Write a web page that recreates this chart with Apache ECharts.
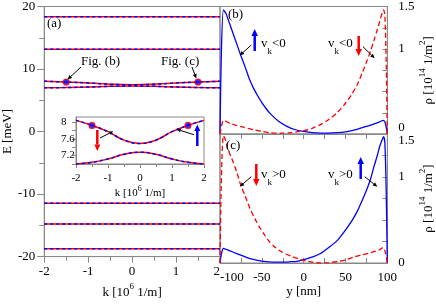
<!DOCTYPE html>
<html><head><meta charset="utf-8">
<script src="https://cdn.jsdelivr.net/npm/echarts@6/dist/echarts.min.js"></script>
<style>html,body{margin:0;padding:0;background:#fff}#c{width:436px;height:304px}</style>
</head><body><div id="c"></div>
<script>
// ---------- data ----------
const kVals = [-2, -1.5, -1, -0.5, 0, 0.5, 1, 1.5, 2];
const band1 = [18.35, 18.35, 18.35, 18.35, 18.35, 18.35, 18.35, 18.35, 18.35];
const band2 = [13.15, 13.15, 13.15, 13.15, 13.15, 13.15, 13.15, 13.15, 13.15];
const band3 = [8.04, 7.92, 7.77, 7.57, 7.49, 7.57, 7.77, 7.92, 8.04];
const band4 = [7.0, 7.04, 7.12, 7.23, 7.28, 7.23, 7.12, 7.04, 7.0];
const band5 = [-11.47, -11.47, -11.47, -11.47, -11.47, -11.47, -11.47, -11.47, -11.47];
const band6 = [-14.8, -14.8, -14.8, -14.8, -14.8, -14.8, -14.8, -14.8, -14.8];
const band7 = [-18.75, -18.75, -18.75, -18.75, -18.75, -18.75, -18.75, -18.75, -18.75];
const dotK = [-1.5, 1.5];
const dotE = [7.92, 7.92];

// panel (b)
const yB_blue = [-100, -98.5, -96, -93, -90, -85, -80, -75, -70, -65, -60, -55, -50, -45, -40, -30, -20, -10, 0, 10, 20, 30, 40, 50, 60, 70, 80, 90, 95, 97.5, 100];
const rhoB_blue = [0, 0.9, 1.46, 1.42, 1.34, 1.2, 1.06, 0.92, 0.79, 0.65, 0.54, 0.45, 0.37, 0.3, 0.24, 0.15, 0.09, 0.05, 0.03, 0.015, 0.01, 0.01, 0.015, 0.025, 0.045, 0.075, 0.105, 0.14, 0.16, 0.13, 0];
const yB_red = [-100, -98, -96, -93, -88, -80, -72, -60, -50, -40, -27, -15, -4, 5, 11, 20, 30, 40, 49, 57, 64, 70, 76, 80, 84, 88, 91, 94, 95.5, 97, 98.5, 100];
const rhoB_red = [0, 0.1, 0.16, 0.15, 0.125, 0.1, 0.08, 0.05, 0.03, 0.015, 0.01, 0.015, 0.03, 0.05, 0.07, 0.11, 0.17, 0.25, 0.35, 0.46, 0.58, 0.72, 0.87, 0.98, 1.1, 1.23, 1.33, 1.43, 1.46, 1.4, 0.9, 0];
// panel (c)
const yC_blue = [-100, -98, -96, -93, -88, -80, -72, -64, -55, -45, -38, -25, -15, -8, 0, 11, 20, 30, 40, 49, 57, 64, 70, 76, 80, 84, 88, 91, 94, 95.5, 97, 98.5, 100];
const rhoC_blue = [0, 0.12, 0.17, 0.16, 0.14, 0.11, 0.08, 0.05, 0.03, 0.015, 0.01, 0.01, 0.015, 0.02, 0.04, 0.07, 0.11, 0.18, 0.26, 0.37, 0.48, 0.6, 0.73, 0.87, 0.98, 1.12, 1.25, 1.36, 1.44, 1.47, 1.4, 0.9, 0];
const yC_red = [-100, -98.5, -96, -93, -91, -87, -80, -75.7, -70, -64, -58, -53, -47, -42, -35, -26.5, -15, -4, 5, 19, 30, 42, 50, 60, 70, 80, 90, 95, 97.5, 100];
const rhoC_red = [0, 0.9, 1.48, 1.42, 1.33, 1.24, 1.06, 0.92, 0.78, 0.63, 0.51, 0.42, 0.33, 0.26, 0.19, 0.13, 0.08, 0.04, 0.02, 0.0, 0.005, 0.02, 0.035, 0.07, 0.095, 0.12, 0.15, 0.18, 0.13, 0];

// tick labels
const rhoLabels = [0, 1, 1.5];
const insetELabels = [7.2, 7.6, 8];

// ---------- chart ----------
const F = 'Liberation Serif';
const AX = '#888';
const RED = '#ff0000', BLUE = '#0000ff';
const zip = (a, b) => a.map((v, i) => [v, b[i]]);

const chart = echarts.init(document.getElementById('c'), null, {renderer: 'canvas'});

const nameRich = {
  n: {fontFamily: F, fontSize: 13, color: '#000', lineHeight: 20},
  s: {fontFamily: F, fontSize: 9, color: '#000', verticalAlign: 'top', lineHeight: 20}
};
const nameRichSmall = {
  n: {fontFamily: F, fontSize: 11, color: '#000', lineHeight: 17},
  s: {fontFamily: F, fontSize: 8, color: '#000', verticalAlign: 'top', lineHeight: 17}
};
const lab = (size) => ({fontFamily: F, fontSize: size, color: '#000'});
const axLine = {onZero: false, lineStyle: {color: AX}};

function bandSeries(data, xi, yi, smooth) {
  const d = zip(kVals, data);
  return [
    {type: 'line', xAxisIndex: xi, yAxisIndex: yi, data: d, symbol: 'none', smooth: smooth,
     lineStyle: {color: RED, width: 1.5}, z: 3, silent: true},
    {type: 'line', xAxisIndex: xi, yAxisIndex: yi, data: d, symbol: 'none', smooth: smooth,
     lineStyle: {color: BLUE, width: 1.5, type: [3, 3]}, z: 4, silent: true}
  ];
}

function arrow(x1, y1, x2, y2, color, lw, hl, hw) {
  const dx = x2 - x1, dy = y2 - y1, L = Math.hypot(dx, dy), ux = dx / L, uy = dy / L;
  const bx = x2 - ux * hl, by = y2 - uy * hl, px = -uy, py = ux;
  return [
    {type: 'line', shape: {x1: x1, y1: y1, x2: bx, y2: by}, style: {stroke: color, lineWidth: lw}, z: 100},
    {type: 'polygon', shape: {points: [[x2, y2], [bx + px * hw / 2, by + py * hw / 2], [bx - px * hw / 2, by - py * hw / 2]]},
     style: {fill: color}, z: 100}
  ];
}
function txt(x, y, text, size) {
  return {type: 'text', x: x, y: y, z: 100,
    style: {text: text, fontFamily: F, fontSize: size || 13, fill: '#000', align: 'left', verticalAlign: 'middle',
      rich: {
        v: {fontFamily: F, fontSize: 13, color: '#000', lineHeight: 24},
        k: {fontFamily: F, fontSize: 9, color: '#000', verticalAlign: 'bottom', lineHeight: 24}
      }}};
}

const graphics = [].concat(
  txt(47, 24, '(a)'),
  txt(81, 62, 'Fig. (b)'),
  txt(161, 62, 'Fig. (c)'),
  arrow(81, 67, 67.5, 79.5, '#000', 1, 4.5, 4),
  arrow(192, 67, 196.3, 78.5, '#000', 1, 4.5, 4),
  txt(228, 15, '(b)'),
  txt(226, 146, '(c)'),
  // panel b
  arrow(254.7, 51, 254.7, 29, BLUE, 2.5, 7, 6.5),
  txt(261, 44, '{v|v}{k|k}{v|<0}'),
  arrow(251.3, 45, 239.7, 55.5, '#000', 1, 4.5, 4),
  txt(328, 44, '{v|v}{k|k}{v|<0}'),
  arrow(358.7, 36, 358.7, 56, RED, 2.5, 7, 6.5),
  arrow(363, 46.7, 374.7, 58.3, '#000', 1, 4.5, 4),
  // panel c
  arrow(256.3, 164, 256.3, 186, RED, 2.5, 7, 6.5),
  txt(261, 175, '{v|v}{k|k}{v|>0}'),
  arrow(251.3, 176.7, 239.7, 186.7, '#000', 1, 4.5, 4),
  txt(328, 175, '{v|v}{k|k}{v|>0}'),
  arrow(360.7, 179, 360.7, 157, BLUE, 2.5, 7, 6.5),
  arrow(364.7, 176.7, 377.3, 186.7, '#000', 1, 4.5, 4),
  // inset
  arrow(97.3, 130, 97.3, 151, RED, 2.5, 6.5, 6),
  arrow(197.3, 146, 197.3, 124.5, BLUE, 2.5, 6.5, 6),
  arrow(100, 138, 113.3, 131.3, '#000', 1, 4, 3.5),
  arrow(194, 134.7, 176.7, 129.3, '#000', 1, 4, 3.5)
);

const curve = (xi, data, color, dashed, z) => ({
  type: 'line', xAxisIndex: xi, yAxisIndex: xi, data: data, symbol: 'none', smooth: 0.25,
  lineStyle: {color: color, width: 1.3, type: dashed ? [5, 3] : 'solid'}, z: z
});

const option = {
  animation: false,
  backgroundColor: '#fff',
  grid: [
    {left: 44, top: 5, width: 176, height: 258, show: true, borderColor: AX, borderWidth: 1},
    {left: 220, top: 5, width: 176, height: 129, show: true, borderColor: AX, borderWidth: 1},
    {left: 220, top: 134, width: 176, height: 129, show: true, borderColor: AX, borderWidth: 1},
    {left: 76, top: 117, width: 128, height: 47, show: true, borderColor: AX, borderWidth: 1, backgroundColor: '#fff'}
  ],
  xAxis: [
    {gridIndex: 0, type: 'value', min: -2, max: 2, interval: 1,
     axisLine: axLine, axisTick: {inside: false, length: 6, lineStyle: {color: AX}},
     minorTick: {show: true, splitNumber: 2, length: 4, lineStyle: {color: AX}},
     splitLine: {show: false}, axisLabel: Object.assign(lab(13), {margin: 8, alignMaxLabel: 'right'}),
     name: '{n|k [10}{s|6}{n| 1/m]}', nameLocation: 'middle', nameGap: 23, nameTextStyle: {rich: nameRich}},
    {gridIndex: 1, type: 'value', min: -100, max: 100, interval: 50,
     axisLine: axLine, axisTick: {inside: false, length: 5, lineStyle: {color: AX}},
     minorTick: {show: true, splitNumber: 2, length: 5, lineStyle: {color: AX}},
     splitLine: {show: false}, axisLabel: {show: false}},
    {gridIndex: 2, type: 'value', min: -100, max: 100, interval: 50,
     axisLine: axLine, axisTick: {inside: true, length: 5, lineStyle: {color: AX}},
     minorTick: {show: true, splitNumber: 2, length: 5, lineStyle: {color: AX}},
     splitLine: {show: false}, axisLabel: Object.assign(lab(13), {margin: 8, alignMinLabel: 'left'}),
     name: 'y [nm]', nameLocation: 'middle', nameGap: 21, nameTextStyle: lab(13)},
    {gridIndex: 3, type: 'value', min: -2, max: 2, interval: 1,
     axisLine: axLine, axisTick: {inside: false, length: 4, lineStyle: {color: AX}},
     minorTick: {show: true, splitNumber: 2, length: 3, lineStyle: {color: AX}},
     splitLine: {show: false}, axisLabel: Object.assign(lab(11), {margin: 9}),
     name: '{n|k [10}{s|6}{n| 1/m]}', nameLocation: 'middle', nameGap: 20, nameTextStyle: {rich: nameRichSmall}}
  ],
  yAxis: [
    {gridIndex: 0, type: 'value', min: -20, max: 20, interval: 10,
     axisLine: axLine, axisTick: {inside: false, length: 7, lineStyle: {color: AX}},
     minorTick: {show: true, splitNumber: 2, length: 5, lineStyle: {color: AX}},
     splitLine: {show: false}, axisLabel: Object.assign(lab(13), {margin: 9}),
     name: 'E [meV]', nameLocation: 'middle', nameGap: 30, nameTextStyle: lab(13)},
    {gridIndex: 1, type: 'value', position: 'right', min: 0, max: 1.5, interval: 0.25,
     axisLine: axLine, axisTick: {inside: true, length: 5, lineStyle: {color: AX}},
     splitLine: {show: false},
     axisLabel: Object.assign(lab(13), {margin: 11, verticalAlignMinLabel: 'bottom',
       formatter: v => rhoLabels.includes(+v.toFixed(2)) ? String(+v.toFixed(2)) : ''}),
     name: '{n|ρ [10}{s|14}{n| 1/m}{s|2}{n|]}', nameLocation: 'middle', nameGap: 24, nameTextStyle: {rich: nameRich}},
    {gridIndex: 2, type: 'value', position: 'right', min: 0, max: 1.5, interval: 0.25,
     axisLine: axLine, axisTick: {inside: true, length: 5, lineStyle: {color: AX}},
     splitLine: {show: false},
     axisLabel: Object.assign(lab(13), {margin: 11, verticalAlignMaxLabel: 'top',
       formatter: v => rhoLabels.includes(+v.toFixed(2)) ? String(+v.toFixed(2)) : ''}),
     name: '{n|ρ [10}{s|14}{n| 1/m}{s|2}{n|]}', nameLocation: 'middle', nameGap: 24, nameTextStyle: {rich: nameRich}},
    {gridIndex: 3, type: 'value', min: 7.0, max: 8.12, interval: 0.2,
     axisLine: axLine, axisTick: {inside: false, length: 4, lineStyle: {color: AX}},
     splitLine: {show: false},
     axisLabel: Object.assign(lab(11), {margin: 15, align: 'left', showMaxLabel: false,
       formatter: v => insetELabels.includes(+v.toFixed(2)) ? String(+v.toFixed(2)) : ''})}
  ],
  graphic: graphics,
  series: [].concat(
    bandSeries(band1, 0, 0, false),
    bandSeries(band2, 0, 0, false),
    bandSeries(band3, 0, 0, true),
    bandSeries(band4, 0, 0, true),
    bandSeries(band5, 0, 0, false),
    bandSeries(band6, 0, 0, false),
    bandSeries(band7, 0, 0, false),
    bandSeries(band3, 3, 3, true),
    bandSeries(band4, 3, 3, true),
    [
      {type: 'scatter', xAxisIndex: 0, yAxisIndex: 0, data: zip(dotK, dotE), symbolSize: 6, z: 6,
       itemStyle: {color: BLUE, borderColor: RED, borderWidth: 1.2}},
      {type: 'scatter', xAxisIndex: 3, yAxisIndex: 3, data: zip(dotK, dotE), symbolSize: 6, z: 6,
       itemStyle: {color: BLUE, borderColor: RED, borderWidth: 1.2}},
      curve(1, zip(yB_blue, rhoB_blue), BLUE, false, 3),
      curve(1, zip(yB_red, rhoB_red), RED, true, 4),
      curve(2, zip(yC_blue, rhoC_blue), BLUE, false, 3),
      curve(2, zip(yC_red, rhoC_red), RED, true, 4)
    ]
  )
};
chart.setOption(option);
</script>
</body></html>
